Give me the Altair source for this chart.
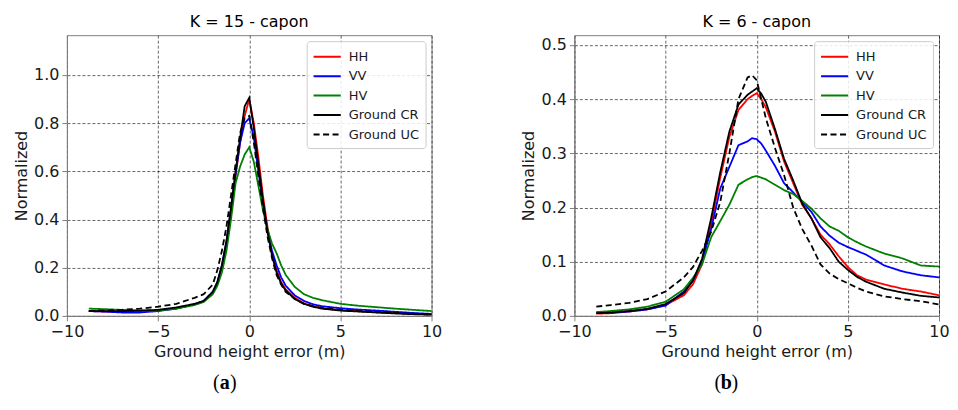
import altair as alt
import pandas as pd

SERIES = ["HH", "VV", "HV", "Ground CR", "Ground UC"]
COLORS = ["#ff0000", "#0000ff", "#008000", "#000000", "#000000"]
DASHES = [[1, 0], [1, 0], [1, 0], [1, 0], [6, 3.5]]

# ---- panel (a): K = 15 - capon ----
x_a = [-8.8, -8, -7, -6, -5, -4, -3, -2.5, -2, -1.75, -1.5, -1.25, -1, -0.75, -0.5, -0.25,
       0, 0.25, 0.5, 0.75, 1, 1.25, 1.5, 1.75, 2, 2.5, 3, 3.5, 4, 5, 6, 7, 8, 9, 10]
hh_a = [.020, .018, .017, .018, .022, .032, .048, .060, .095, .135, .20, .30, .44, .58, .72, .83,
        .90, .80, .66, .50, .37, .26, .19, .14, .11, .075, .052, .040, .032, .024, .019, .015, .012, .009, .006]
vv_a = [.020, .018, .014, .014, .020, .030, .048, .062, .10, .14, .21, .31, .44, .59, .72, .80,
        .82, .74, .60, .47, .35, .27, .21, .16, .125, .085, .062, .048, .040, .032, .026, .022, .017, .012, .008]
hv_a = [.030, .028, .025, .022, .022, .030, .045, .058, .09, .125, .18, .27, .40, .55, .62, .67,
        .70, .64, .54, .44, .36, .30, .26, .21, .17, .12, .09, .075, .065, .050, .042, .036, .030, .025, .020]
cr_a = [.020, .020, .020, .022, .025, .035, .050, .062, .100, .14, .21, .31, .45, .60, .74, .87,
        .905, .78, .63, .48, .35, .25, .18, .135, .105, .07, .05, .038, .030, .022, .018, .014, .010, .007, .005]
uc_a = [.020, .022, .025, .030, .038, .050, .075, .090, .13, .19, .27, .37, .50, .63, .76, .82,
        .83, .72, .58, .45, .33, .24, .17, .13, .10, .07, .05, .040, .033, .025, .020, .016, .012, .009, .006]

# ---- panel (b): K = 6 - capon ----
x_b = [-8.8, -8, -7, -6, -5, -4, -3.5, -3, -2.5, -2, -1.5, -1, -0.5, -0.25, 0, 0.25, 0.5,
       1, 1.5, 2, 2.5, 3, 3.5, 4, 4.5, 5, 5.5, 6, 7, 8, 9, 10]
hh_b = [.004, .005, .008, .012, .020, .038, .058, .095, .17, .255, .33, .38, .40, .406, .411, .40, .385,
        .34, .285, .245, .205, .18, .15, .132, .11, .09, .075, .067, .058, .05, .045, .038]
vv_b = [.005, .006, .008, .012, .019, .045, .065, .10, .16, .235, .275, .315, .322, .328, .326, .318, .305,
        .277, .245, .228, .21, .192, .165, .148, .135, .127, .12, .113, .093, .082, .075, .071]
hv_b = [.007, .009, .012, .017, .026, .049, .07, .095, .145, .175, .205, .242, .252, .256, .258, .255, .252,
        .242, .232, .225, .212, .198, .18, .165, .157, .145, .136, .128, .115, .106, .093, .091]
cr_b = [.005, .006, .009, .013, .022, .042, .065, .105, .18, .265, .34, .39, .408, .414, .42, .41, .395,
        .345, .29, .25, .207, .18, .145, .125, .10, .085, .072, .063, .05, .043, .037, .034]
uc_b = [.017, .020, .024, .031, .045, .071, .09, .12, .155, .21, .30, .40, .44, .444, .435, .40, .365,
        .31, .26, .20, .16, .13, .095, .078, .068, .06, .052, .045, .036, .031, .027, .021]

X_TICKS = [-10, -5, 0, 5, 10]
Y_TICKS_A = [0.0, 0.2, 0.4, 0.6, 0.8, 1.0]
Y_TICKS_B = [0.0, 0.1, 0.2, 0.3, 0.4, 0.5]

FONT = "DejaVu Sans"


def make_df(xs, vals):
    rows = []
    for name, ys in zip(SERIES, vals):
        for xv, yv in zip(xs, ys):
            rows.append({"x": xv, "y": yv, "s": name})
    return pd.DataFrame(rows)


def caption(letter, cx, cy):
    d = pd.DataFrame({"t": [letter]})
    base = alt.Chart(d)
    mid = base.mark_text(font="Liberation Serif", fontSize=20, fontWeight="bold",
                         color="black", align="center", baseline="middle").encode(
        text="t:N", x=alt.value(cx), y=alt.value(cy))
    lp = base.mark_text(font="Liberation Serif", fontSize=20, color="black",
                        align="center", baseline="middle", dx=-8.5).encode(
        text=alt.value("("), x=alt.value(cx), y=alt.value(cy))
    rp = base.mark_text(font="Liberation Serif", fontSize=20, color="black",
                        align="center", baseline="middle", dx=8.5).encode(
        text=alt.value(")"), x=alt.value(cx), y=alt.value(cy))
    return [lp, mid, rp]


def panel(xs, vals, title, ymax, yticks, letter, cx):
    df = make_df(xs, vals)
    lines = alt.Chart(df).mark_line(strokeWidth=1.8).encode(
        x=alt.X("x:Q", scale=alt.Scale(domain=[-10, 10], nice=False, zero=False),
                axis=alt.Axis(values=X_TICKS, format="d", labelFlush=False,
                              title="Ground height error (m)")),
        y=alt.Y("y:Q", scale=alt.Scale(domain=[0, ymax], nice=False),
                axis=alt.Axis(values=yticks, format=".1f", title="Normalized")),
        color=alt.Color("s:N", scale=alt.Scale(domain=SERIES, range=COLORS),
                        legend=alt.Legend(title=None)),
        strokeDash=alt.StrokeDash("s:N", scale=alt.Scale(domain=SERIES, range=DASHES),
                                  legend=alt.Legend(title=None)),
        detail="s:N",
    )
    return alt.layer(lines, *caption(letter, cx, 348)).properties(
        width=365, height=281,
        title=alt.Title(title, fontSize=16, fontWeight="normal", font=FONT,
                        color="black", offset=5),
    )


left = panel(x_a, [hh_a, vv_a, hv_a, cr_a, uc_a], "K = 15 - capon", 1.165, Y_TICKS_A, "a", 158)
right = panel(x_b, [hh_b, vv_b, hv_b, cr_b, uc_b], "K = 6 - capon", 0.518, Y_TICKS_B, "b", 152)

chart = alt.hconcat(left, right).resolve_scale(
    x="independent", y="independent", color="independent", strokeDash="independent"
).resolve_legend(color="independent", strokeDash="independent").properties(
    padding={"left": 5, "right": 0, "top": 5, "bottom": 5}
).configure_view(
    stroke="#808080", strokeWidth=1
).configure_axis(
    domainColor="#808080", tickColor="#808080", tickSize=5, tickWidth=1,
    labelFont=FONT, labelFontSize=16, labelColor="#1a1a1a", labelPadding=3,
    titleFont=FONT, titleFontSize=16, titleFontWeight="normal", titleColor="#1a1a1a",
    titlePadding=4, gridColor="#000000", gridDash=[3, 2], gridWidth=0.8, gridOpacity=0.75,
).configure_legend(
    orient="top-right", offset=6, padding=6, fillColor="rgba(255,255,255,0.85)",
    strokeColor="#cccccc", cornerRadius=3, labelFont=FONT, labelFontSize=13,
    labelColor="#1a1a1a", symbolType="M-1.6,0L1.6,0", symbolSize=289,
    symbolStrokeWidth=2, symbolOffset=5, labelOffset=12, rowPadding=2.5,
).configure_concat(spacing=78)

chart.save("out.html", embed_options={"renderer": "svg", "actions": False})
